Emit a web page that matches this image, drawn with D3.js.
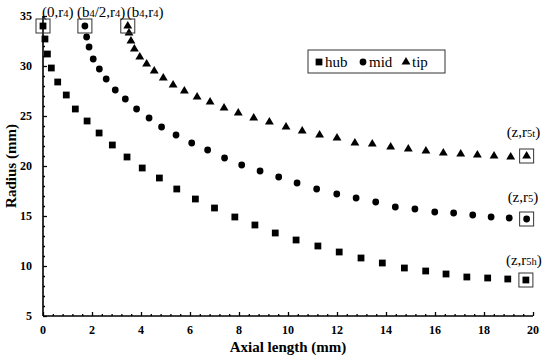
<!DOCTYPE html>
<html>
<head>
<meta charset="utf-8">
<script src="https://cdn.jsdelivr.net/npm/d3@7/dist/d3.min.js"></script>
<style>
  body { margin: 0; background: #fff; }
</style>
</head>
<body>
<div id="chart"></div>
<script>
// values
const hubX = [0, 0.08, 0.18, 0.34, 0.6, 0.95, 1.32, 1.8, 2.29, 2.83, 3.43, 4.05, 4.75, 5.46, 6.22, 7.0, 7.83, 8.65, 9.48, 10.33, 11.22, 12.09, 12.98, 13.85, 14.75, 15.62, 16.45, 17.3, 18.15, 18.97, 19.71];
const hubR = [34, 32.7, 31.2, 29.8, 28.4, 27.1, 25.7, 24.5, 23.3, 22.1, 20.9, 19.8, 18.8, 17.7, 16.7, 15.8, 14.9, 14.1, 13.3, 12.6, 12.0, 11.4, 10.8, 10.3, 9.8, 9.5, 9.2, 8.9, 8.8, 8.7, 8.6];
const midX = [1.71, 1.78, 1.88, 2.05, 2.3, 2.58, 2.95, 3.36, 3.82, 4.33, 4.84, 5.43, 6.07, 6.72, 7.41, 8.11, 8.86, 9.62, 10.37, 11.17, 11.99, 12.78, 13.58, 14.38, 15.18, 15.99, 16.76, 17.54, 18.29, 19.03, 19.74];
const midR = [34, 32.9, 31.9, 30.7, 29.7, 28.7, 27.6, 26.7, 25.7, 24.8, 23.9, 23.1, 22.3, 21.6, 20.8, 20.1, 19.5, 18.9, 18.3, 17.7, 17.2, 16.8, 16.4, 15.9, 15.7, 15.4, 15.3, 15.1, 14.9, 14.8, 14.7];
const tipX = [3.46, 3.51, 3.59, 3.73, 3.95, 4.23, 4.54, 4.91, 5.31, 5.77, 6.29, 6.82, 7.39, 7.97, 8.6, 9.24, 9.92, 10.58, 11.29, 12.0, 12.73, 13.44, 14.19, 14.91, 15.63, 16.34, 17.05, 17.73, 18.41, 19.09, 19.74];
const tipR = [34, 33.3, 32.5, 31.7, 30.9, 30.2, 29.5, 28.8, 28.1, 27.5, 26.9, 26.4, 25.8, 25.3, 24.8, 24.4, 23.9, 23.5, 23.1, 22.8, 22.3, 22.2, 21.9, 21.7, 21.5, 21.3, 21.2, 21.1, 21.0, 20.9, 21.0];

const seriesNames = ["hub", "mid", "tip"];
const xTicks = [0, 2, 4, 6, 8, 10, 12, 14, 16, 18, 20];
const yTicks = [5, 10, 15, 20, 25, 30, 35];

// boxed end points and their labels: [series, index, text parts (odd parts are small indices)]
const marks = [
  ["hub", 0, "(0,r", "4", ")"],
  ["mid", 0, "(b", "4", "/2,r", "4", ")"],
  ["tip", 0, "(b", "4", ",r", "4", ")"],
  ["tip", 30, "(z,r", "5t", ")"],
  ["mid", 30, "(z,r", "5", ")"],
  ["hub", 30, "(z,r", "5h", ")"]
];

const serif = '"Liberation Serif", "Times New Roman", serif';
const width = 550, height = 362;
const margin = {top: 16, right: 17, bottom: 46, left: 43};

const svg = d3.select('#chart').append('svg')
  .attr('width', width).attr('height', height)
  .attr('font-family', serif);

const x = d3.scaleLinear().domain([0, 20]).range([margin.left, width - margin.right]);
const y = d3.scaleLinear().domain([5, 35]).range([height - margin.bottom, margin.top]);

const data = {
  hub: hubX.map((v, i) => ({x: v, r: hubR[i]})),
  mid: midX.map((v, i) => ({x: v, r: midR[i]})),
  tip: tipX.map((v, i) => ({x: v, r: tipR[i]}))
};
const symbols = {hub: d3.symbolSquare, mid: d3.symbolCircle, tip: d3.symbolTriangle};
const sizes = {hub: 46, mid: 36, tip: 34};

// axes, ticks pointing inward
const xAxis = svg.append('g').attr('transform', `translate(0,${y(5)})`);
xAxis.call(d3.axisTop(x).tickValues(d3.range(0, 20.01, 0.4)).tickSize(2).tickFormat(''));
xAxis.call(g => g.selectAll('.tick line').filter(d => Math.abs(d % 2) < 1e-6 || Math.abs(d % 2 - 2) < 1e-6).attr('y2', -4));
xAxis.select('.domain').attr('d', `M${x(0)},0H${x(20)}`).attr('stroke-width', 1.6);
xAxis.selectAll('.tick line').attr('stroke-width', 1.3);

svg.append('g').selectAll('text').data(xTicks).join('text')
  .attr('x', d => x(d)).attr('y', y(5) + 18)
  .attr('text-anchor', 'middle')
  .style('font-family', serif)
  .style('font-size', '12px').style('font-weight', 'bold')
  .text(d => d);

const yAxis = svg.append('g').attr('transform', `translate(${x(0)},0)`);
yAxis.call(d3.axisRight(y).ticks(30).tickSize(2).tickFormat(''));
yAxis.call(g => g.selectAll('.tick line').filter(d => d % 5 === 0).attr('x2', 4));
yAxis.select('.domain').attr('d', `M0,${y(35)}V${y(5)}`).attr('stroke-width', 1.6);
yAxis.selectAll('.tick line').attr('stroke-width', 1.3);

svg.append('g').selectAll('text').data(yTicks).join('text')
  .attr('x', x(0) - 11).attr('y', d => y(d) + 4)
  .attr('text-anchor', 'end')
  .style('font-family', serif)
  .style('font-size', '12px').style('font-weight', 'bold')
  .text(d => d);

svg.append('text')
  .attr('x', (x(0) + x(20)) / 2).attr('y', height - 10)
  .attr('text-anchor', 'middle')
  .style('font-family', serif)
  .style('font-size', '15px').style('font-weight', 'bold')
  .text('Axial length (mm)');

svg.append('text')
  .attr('transform', `translate(16,${(y(5) + y(35)) / 2}) rotate(-90)`)
  .attr('text-anchor', 'middle')
  .style('font-family', serif)
  .style('font-size', '15px').style('font-weight', 'bold')
  .text('Radius (mm)');

// points
seriesNames.forEach(s => {
  svg.append('g').selectAll('path').data(data[s]).join('path')
    .attr('transform', d => `translate(${x(d.x)},${y(d.r)})`)
    .attr('d', d3.symbol(symbols[s], sizes[s]))
    .attr('fill', '#000');
});

// boxes around the end points
svg.append('g').selectAll('rect').data(marks).join('rect')
  .attr('x', d => x(data[d[0]][d[1]].x) - 7)
  .attr('y', d => y(data[d[0]][d[1]].r) - 7)
  .attr('width', 14).attr('height', 14)
  .attr('fill', 'none').attr('stroke', '#333').attr('stroke-width', 1);

// labels with small indices
const labelPos = [
  {dx: -1, dy: -9},
  {dx: -8, dy: -9},
  {dx: -1, dy: -9},
  {dx: -20, dy: -19},
  {dx: -19, dy: -17},
  {dx: -20, dy: -15}
];
marks.forEach((m, i) => {
  const p = data[m[0]][m[1]];
  const t = svg.append('text')
    .attr('x', x(p.x) + labelPos[i].dx)
    .attr('y', y(p.r) + labelPos[i].dy)
    .style('font-family', serif)
    .style('font-size', '15px');
  m.slice(2).forEach((part, k) => {
    t.append('tspan').text(part)
      .style('font-size', k % 2 === 1 ? '10.5px' : '15px');
  });
});

// legend
const lg = svg.append('g').attr('transform', 'translate(308,50)');
lg.append('rect').attr('width', 137).attr('height', 23)
  .attr('fill', '#fff').attr('stroke', '#333').attr('stroke-width', 1);
const legX = [11, 55, 98];
seriesNames.forEach((s, i) => {
  lg.append('path')
    .attr('transform', `translate(${legX[i]},12)`)
    .attr('d', d3.symbol(symbols[s], sizes[s]))
    .attr('fill', '#000');
  lg.append('text').attr('x', legX[i] + 6).attr('y', 16.5)
    .style('font-family', serif)
    .style('font-size', '15px').text(s);
});
</script>
</body>
</html>
